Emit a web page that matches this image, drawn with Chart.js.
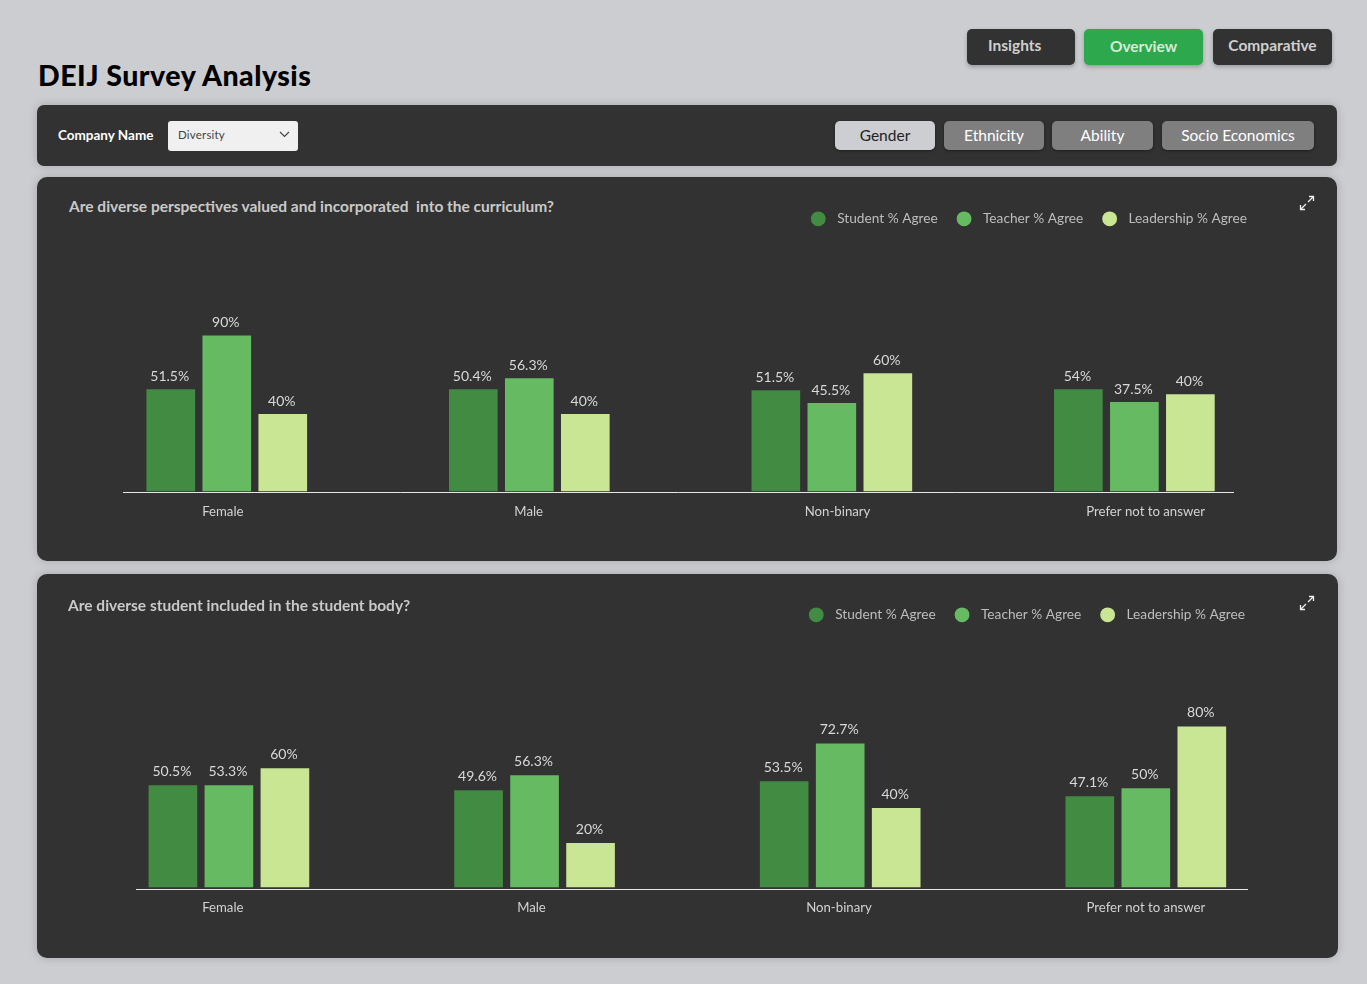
<!DOCTYPE html>
<html><head><meta charset="utf-8">
<script src="https://cdn.jsdelivr.net/npm/chart.js@4"></script>
<style>
html,body{margin:0;padding:0;width:1367px;height:984px;overflow:hidden;background:#cccdd1;font-family:Lato,"Noto Sans",sans-serif}
.abs,.btn,.card,canvas,.q{position:absolute}
.btn{display:flex;align-items:center;justify-content:center;border-radius:5px;box-sizing:border-box;box-shadow:0 2px 4px rgba(0,0,0,.25)}
.nav{background:#323232;color:#cfcfcf;font-size:15.5px;font-weight:700;padding-bottom:4px}
.seg{background:#7f7f7f;color:#fff;font-size:15.5px;box-shadow:0 1px 3px rgba(0,0,0,.4);padding-bottom:2px}
.card{background:#323232;border-radius:10px;box-shadow:0 0 10px rgba(0,0,0,.18)}
.q{color:#c9c9c9;font-size:15.5px;font-weight:700;white-space:pre;line-height:18px}
</style></head><body>
<div class="btn nav" style="left:967px;top:29px;width:108px;height:36px;justify-content:flex-start;padding-left:21px">Insights</div>
<div class="btn" style="left:1084px;top:29px;width:119px;height:36px;background:#2ea84c;color:#d8ead8;font-size:15.5px;font-weight:700;padding-bottom:2px">Overview</div>
<div class="btn nav" style="left:1213px;top:29px;width:119px;height:36px">Comparative</div>
<div class="abs" style="left:38px;top:58px;font-size:28.5px;font-weight:900;color:#000;line-height:34px;white-space:pre;letter-spacing:.5px">DEIJ Survey Analysis</div>

<div class="card" style="left:37px;top:105px;width:1300px;height:61px;border-radius:7px"></div>
<div class="abs" style="left:58px;top:127px;font-size:13.5px;font-weight:700;color:#fff;line-height:16px;white-space:pre">Company Name</div>
<div class="abs" style="left:168px;top:121px;width:130px;height:30px;background:#f0f0f0;border-radius:3px"></div>
<div class="abs" style="left:178px;top:128px;font-size:11.5px;color:#444;line-height:14px;letter-spacing:.2px">Diversity</div>
<svg class="abs" style="left:279px;top:131px" width="11" height="7" viewBox="0 0 11 7"><path d="M1 1l4.5 4.5L10 1" fill="none" stroke="#444" stroke-width="1.2"/></svg>
<div class="btn seg" style="left:835px;top:121px;width:100px;height:29px;background:#cdced2;color:#222">Gender</div>
<div class="btn seg" style="left:944px;top:121px;width:100px;height:29px">Ethnicity</div>
<div class="btn seg" style="left:1052px;top:121px;width:101px;height:29px">Ability</div>
<div class="btn seg" style="left:1162px;top:121px;width:152px;height:29px">Socio Economics</div>

<div class="card" style="left:37px;top:177px;width:1300px;height:384px"></div>
<div class="q" style="left:69px;top:197px">Are diverse perspectives valued and incorporated  into the curriculum?</div>
<svg class="abs" style="left:1299px;top:195px" width="16" height="16" viewBox="0 0 16 16"><path d="M9 7l5.5-5.5M10 1.5h4.5V6M7 9l-5.500 5.500M6 14.500H1.500V10" fill="none" stroke="#eee" stroke-width="1.300"/></svg>
<canvas id="chartA" width="1300" height="384" style="left:37px;top:177px;width:1300px;height:384px"></canvas>

<div class="card" style="left:37px;top:574px;width:1301px;height:384px"></div>
<div class="q" style="left:68px;top:596px">Are diverse student included in the student body?</div>
<svg class="abs" style="left:1299px;top:595px" width="16" height="16" viewBox="0 0 16 16"><path d="M9 7l5.5-5.5M10 1.5h4.5V6M7 9l-5.500 5.500M6 14.500H1.500V10" fill="none" stroke="#eee" stroke-width="1.300"/></svg>
<canvas id="chartB" width="1301" height="384" style="left:37px;top:574px;width:1301px;height:384px"></canvas>

<script>
const categories = ["Female", "Male", "Non-binary", "Prefer not to answer"];
const seriesNames = ["Student % Agree", "Teacher % Agree", "Leadership % Agree"];
const seriesColors = ["#428b42", "#66ba62", "#c9e695"];

// Bar heights as drawn in the picture, with the printed labels kept next to them.
const curriculumStudent = [51, 51, 50.5, 51];
const curriculumTeacher = [78, 56.5, 44, 44.5];
const curriculumLeadership = [38.5, 38.5, 59, 48.5];
const curriculumStudentLabels = ["51.5%", "50.4%", "51.5%", "54%"];
const curriculumTeacherLabels = ["90%", "56.3%", "45.5%", "37.5%"];
const curriculumLeadershipLabels = ["40%", "40%", "60%", "40%"];

const bodyStudent = [51, 48.5, 53, 45.5];
const bodyTeacher = [51, 56, 72, 49.5];
const bodyLeadership = [59.5, 22, 39.5, 80.5];
const bodyStudentLabels = ["50.5%", "49.6%", "53.5%", "47.1%"];
const bodyTeacherLabels = ["53.3%", "56.3%", "72.7%", "50%"];
const bodyLeadershipLabels = ["60%", "20%", "40%", "80%"];

const FONT = "Lato";
const barLabels = {
  id: "barLabels",
  afterDatasetsDraw(chart, _a, opts) {
    const c = chart.ctx;
    c.save();
    c.font = `14px ${FONT}`;
    c.fillStyle = "#d9d9d9";
    c.textAlign = "center";
    c.textBaseline = "bottom";
    chart.data.datasets.forEach((ds, i) => {
      chart.getDatasetMeta(i).data.forEach((bar, j) => {
        c.fillText(ds.printed[j], bar.x - 1, bar.y - opts.gap);
      });
    });
    c.restore();
  }
};
const legendShift = {
  id: "legendShift",
  afterUpdate(chart, _a, opts) {
    chart.legend.left += opts.dx;
    chart.legend.right += opts.dx;
  }
};

function build(id, values, printed, cfg) {
  new Chart(document.getElementById(id), {
    type: "bar",
    plugins: [barLabels, legendShift],
    data: {
      datasets: seriesNames.map((name, s) => ({
        label: name,
        printed: printed[s],
        backgroundColor: seriesColors[s],
        data: values[s].map((v, i) => ({ x: i, y: v })),
        barThickness: 56,
        maxBarThickness: 48
      }))
    },
    options: {
      responsive: false,
      animation: false,
      devicePixelRatio: 1,
      events: [],
      layout: { padding: { left: cfg.left, right: cfg.right, top: cfg.top, bottom: 0 } },
      scales: {
        x: {
          type: "linear",
          offset: false,
          min: cfg.xMin,
          max: cfg.xMax,
          afterBuildTicks(s) { s.ticks = categories.map((_, i) => ({ value: i + cfg.tickShift[i] })); },
          afterFit(s) { s.height = 69; },
          grid: { display: false },
          border: { display: true, color: "#e6e6e6", width: 1 },
          ticks: {
            autoSkip: false,
            maxRotation: 0,
            padding: cfg.tickPad,
            color: "#d2d2d2",
            font: { family: FONT, size: 13.2 },
            callback: (_v, i) => categories[i]
          }
        },
        y: { display: false, min: cfg.yMin, max: cfg.yMax }
      },
      plugins: {
        tooltip: { enabled: false },
        legendShift: { dx: cfg.legendDx },
        barLabels: { gap: cfg.labelGap },
        legend: {
          position: "top",
          align: "end",
          labels: {
            usePointStyle: true,
            pointStyle: "circle",
            boxWidth: 14,
            boxHeight: 10.5,
            padding: 19.5,
            color: "#bdbdbd",
            font: { family: FONT, size: 13.7 },
            generateLabels(chart) {
              return chart.data.datasets.map((ds, i) => ({
                text: "\u00a0\u2009" + ds.label,
                fillStyle: ds.backgroundColor,
                strokeStyle: ds.backgroundColor,
                lineWidth: 0,
                pointStyle: "circle",
                fontColor: "#bdbdbd",
                datasetIndex: i
              }));
            }
          }
        }
      }
    }
  });
}

build("chartA",
  [curriculumStudent, curriculumTeacher, curriculumLeadership],
  [curriculumStudentLabels, curriculumTeacherLabels, curriculumLeadershipLabels],
  { left: 86, right: 104, top: 15.5, xMin: -0.343, xMax: 3.326, yMin: -0.5, yMax: 128.3, legendDx: 33.5, tickPad: 4, labelGap: 6,
    tickShift: [-0.013, -0.002, 0.019, 0.037] });
build("chartB",
  [bodyStudent, bodyTeacher, bodyLeadership],
  [bodyStudentLabels, bodyTeacherLabels, bodyLeadershipLabels],
  { left: 99, right: 91, top: 14.5, xMin: -0.304, xMax: 3.331, yMin: -1, yMax: 128.3, legendDx: 17.5, tickPad: 3, labelGap: 7,
    tickShift: [-0.02, -0.01, -0.004, 0] });
</script>
</body></html>
